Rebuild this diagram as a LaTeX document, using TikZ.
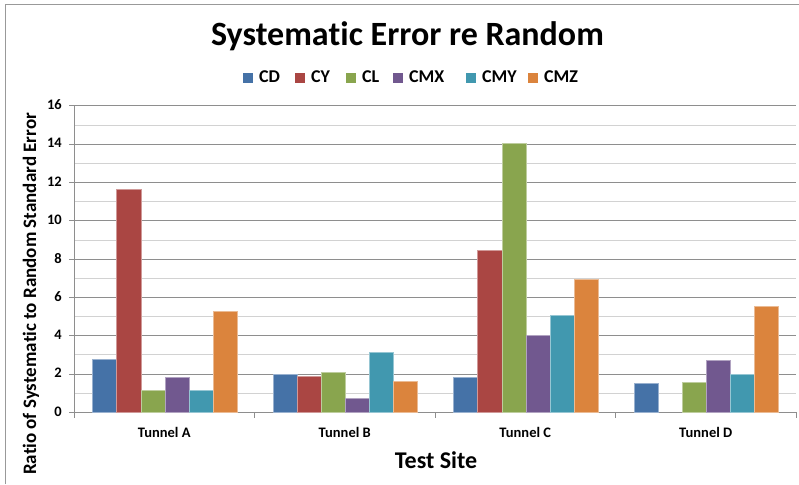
\documentclass[tikz,border=0pt]{standalone}
\usepackage{fontspec}
\setmainfont{Carlito}[Ligatures=CommonOff]
\definecolor{cCD}{HTML}{4572A7}
\definecolor{cCY}{HTML}{AA4643}
\definecolor{cCL}{HTML}{89A54E}
\definecolor{cCMX}{HTML}{71588F}
\definecolor{cCMY}{HTML}{4198AF}
\definecolor{cCMZ}{HTML}{DB843D}
\definecolor{majgrid}{HTML}{8E8E8E}
\definecolor{mingrid}{HTML}{D2D2D2}
\newcommand\barsat[7]{%
  \foreach \v/\c [count=\j from 0] in {#2/cCD,#3/cCY,#4/cCL,#5/cCMX,#6/cCMY,#7/cCMZ}{%
    \ifdim\v pt>0pt
      \pgfmathsetmacro\xl{74+#1*180.5+18.6+\j*24.1}
      \pgfmathsetmacro\yt{412.3-\v*19.15}
      \filldraw[fill=\c, draw=\c!55!white, line width=0.6pt] (\xl,412.3) rectangle ({\xl+24.1},\yt);
    \fi
  }%
}
\begin{document}
\begin{tikzpicture}[x=1pt,y=-1pt,
  lbl/.style={font=\bfseries\fontsize{14.5}{17}\selectfont, inner sep=0pt},
  legtxt/.style={font=\bfseries\fontsize{18}{21}\selectfont, inner sep=0pt, anchor=base west}]
\useasboundingbox (0,0) rectangle (799,484);
\fill[white] (0,0) rectangle (799,484);
\draw[gray!80, line width=0.8pt] (5,484) -- (5,4) -- (799,4);
% gridlines
\foreach \v in {1,3,...,15}
  \draw[mingrid, line width=0.9pt] (74,{412.3-\v*19.15}) -- (796,{412.3-\v*19.15});
\foreach \v in {2,4,...,16}
  \draw[majgrid, line width=0.9pt] (69,{412.3-\v*19.15}) -- (796,{412.3-\v*19.15});
% axes
\draw[majgrid, line width=0.9pt] (74,106) -- (74,412.3);
\draw[majgrid, line width=0.9pt] (69,412.3) -- (796,412.3);
\foreach \i in {0,...,4}
  \draw[majgrid, line width=0.9pt] ({74+\i*180.5},412.3) -- ({74+\i*180.5},417.5);
% bars
\barsat{0}{2.77}{11.64}{1.15}{1.83}{1.14}{5.25}
\barsat{1}{2.00}{1.86}{2.10}{0.71}{3.11}{1.62}
\barsat{2}{1.83}{8.46}{14.05}{4.02}{5.07}{6.93}
\barsat{3}{1.49}{0}{1.55}{2.71}{1.98}{5.53}
% y tick labels
\foreach \v in {0,2,...,16}
  \node[lbl, anchor=east] (y\v) at (62,{412.3-\v*19.15-1}) {\v};
% category labels
\foreach \n [count=\i from 0] in {A,B,C,D}
  \node[lbl, anchor=base] (cat\n) at ({74+\i*180.5+90.25},437.7) {Tunnel \n};
% axis titles
\node[font=\bfseries\fontsize{24}{28}\selectfont, inner sep=0pt, anchor=base] (xtitle) at (436,468.3) {Test Site};
\node[font=\bfseries\fontsize{19}{22}\selectfont, inner sep=0pt, rotate=90] (ytitle) at (31,294) {Ratio of Systema\kern0pt tic to Random Standard Error};
% title
\node[font=\bfseries\fontsize{34}{40}\selectfont, inner sep=0pt, anchor=base] (title) at (407.5,45.5) {Systema\kern0pt tic Error re Random};
% legend
\foreach \x/\c/\t in {243/cCD/CD,295/cCY/CY,346/cCL/CL,393/cCMX/CMX,466/cCMY/CMY,528/cCMZ/CMZ}{
  \fill[\c] (\x,73) rectangle ({\x+10},83);
  \node[legtxt] (leg\t) at ({\x+16},83) {\t};
}
\end{tikzpicture}
\end{document}
